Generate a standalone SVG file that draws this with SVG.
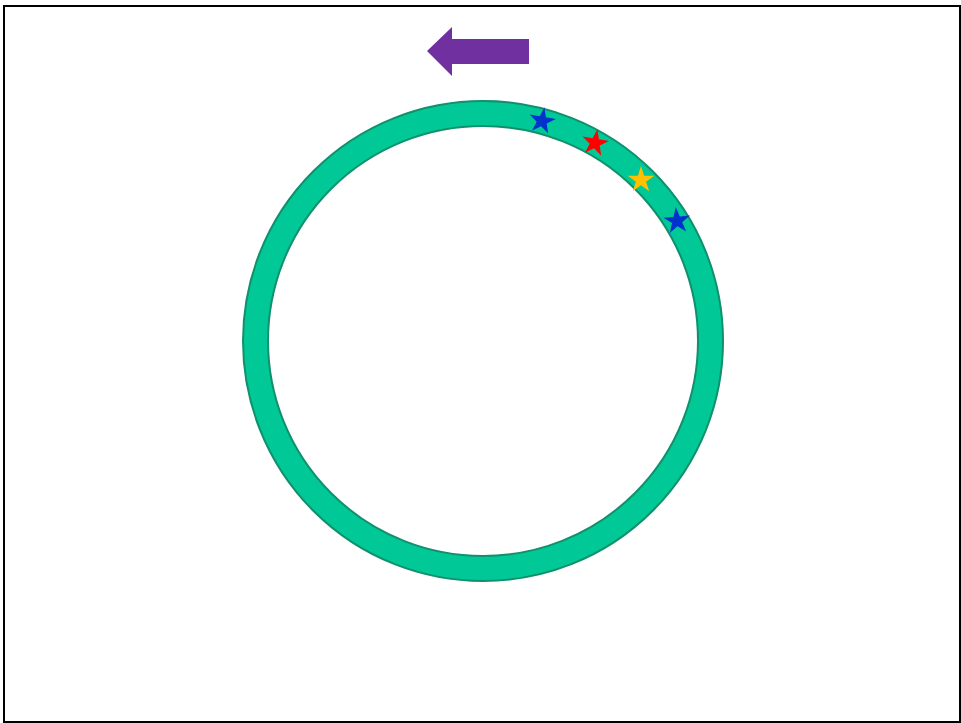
<svg xmlns="http://www.w3.org/2000/svg" width="961" height="723" viewBox="0 0 961 723">
<style>
.ring{fill:#00C896;stroke:#10906C;stroke-width:2}
.hole{fill:#FFFFFF;stroke:#10906C;stroke-width:2}
</style>
<defs>
<polygon id="star" points="0,-14 3.15,-4.33 13.32,-4.33 5.09,1.65 8.23,11.33 0,5.35 -8.23,11.33 -5.09,1.65 -13.32,-4.33 -3.15,-4.33"/>
</defs>
<rect x="0" y="0" width="961" height="723" fill="#FFFFFF"/>
<rect x="4" y="6" width="956" height="716" fill="none" stroke="#000000" stroke-width="2"/>
<g id="arrow">
<polygon points="427,51 452,27 452,39 529,39 529,64 452,64 452,76" fill="#7030A0"/>
</g>
<g id="ring">
<circle class="ring" cx="483" cy="341" r="240"/>
<circle class="hole" cx="483" cy="341" r="215"/>
</g>
<g id="stars">
<use href="#star" transform="translate(542,121) rotate(10)" fill="#0033CC"/>
<use href="#star" transform="translate(595,143) rotate(10)" fill="#FF0000"/>
<use href="#star" transform="translate(641,180)" fill="#FFC000"/>
<use href="#star" transform="translate(677,221) rotate(-5)" fill="#0033CC"/>
</g>
</svg>
